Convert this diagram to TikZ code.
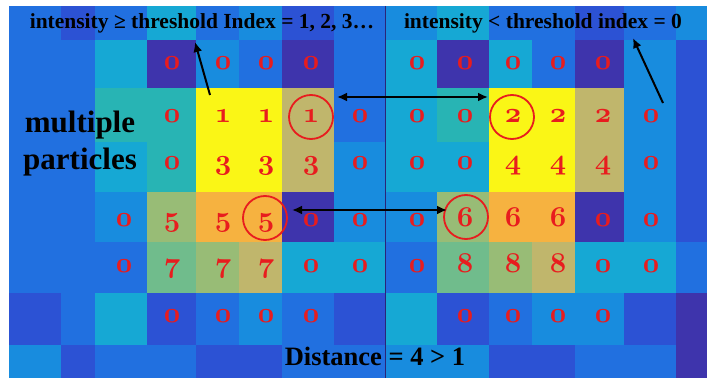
\documentclass[tikz,border=0pt]{standalone}
\usepackage{fontspec}
\setmainfont{Liberation Serif}
\usetikzlibrary{arrows.meta}
\definecolor{pIndigo}{RGB}{62,52,172}
\definecolor{pDeep}{RGB}{44,82,212}
\definecolor{pBlue}{RGB}{33,112,224}
\definecolor{pLight}{RGB}{24,140,222}
\definecolor{pCyan}{RGB}{22,168,212}
\definecolor{pTeal}{RGB}{40,180,180}
\definecolor{pGreen}{RGB}{112,188,140}
\definecolor{pOlive}{RGB}{152,188,118}
\definecolor{pKhaki}{RGB}{192,182,108}
\definecolor{pOrange}{RGB}{246,178,64}
\definecolor{pYellow}{RGB}{250,246,22}
\definecolor{numred}{RGB}{232,28,30}
\newcommand\oldnum{\fontencoding{OML}\fontfamily{cmm}\fontseries{b}\fontshape{it}\fontsize{24.88}{26}\selectfont}
\def\colx{{9,61,95,147,196,239,282,334,385,437,489,532,575,624,676,707}}
\def\rowy{{6,40,88,142,192,242,293,345,378}}
\tikzset{
  num/.style={text=numred, font=\oldnum, anchor=base, inner sep=0pt, scale=1.15, transform shape},
  ring/.style={circle, draw=numred, line width=1.8pt, minimum size=44pt, inner sep=0pt},
  pointer/.style={line width=2pt, -{Latex[length=10pt,width=9pt]}},
  link/.style={line width=2pt, {Latex[length=10pt,width=9pt]}-{Latex[length=10pt,width=9pt]}},
  headtext/.style={font=\bfseries\fontsize{21.5}{24}\selectfont, anchor=base, inner sep=0pt},
  bigtext/.style={font=\bfseries\fontsize{31}{34}\selectfont, anchor=base, inner sep=0pt}
}
\begin{document}
\begin{tikzpicture}[x=1pt,y=-1pt]
            \useasboundingbox (0,0) rectangle (707,379);
            \fill[white] (0,0) rectangle (707,379);

            % Intensity map, one list of colours per row
            \foreach \cols [count=\r from 0] in {
                {pBlue,pDeep,pBlue,pCyan,pBlue,pLight,pDeep,pBlue,pLight,pCyan,pBlue,pBlue,pDeep,pBlue,pLight},
                {pBlue,pBlue,pCyan,pIndigo,pLight,pBlue,pIndigo,pBlue,pCyan,pIndigo,pCyan,pBlue,pIndigo,pLight,pDeep},
                {pBlue,pBlue,pTeal,pTeal,pYellow,pYellow,pKhaki,pBlue,pCyan,pTeal,pYellow,pYellow,pKhaki,pLight,pDeep},
                {pBlue,pBlue,pCyan,pTeal,pYellow,pYellow,pKhaki,pLight,pCyan,pCyan,pYellow,pYellow,pKhaki,pLight,pDeep},
                {pBlue,pBlue,pLight,pOlive,pOrange,pOrange,pIndigo,pLight,pLight,pOlive,pOrange,pOrange,pIndigo,pLight,pDeep},
                {pBlue,pBlue,pBlue,pGreen,pOlive,pKhaki,pCyan,pCyan,pBlue,pGreen,pOlive,pKhaki,pCyan,pCyan,pBlue},
                {pDeep,pBlue,pCyan,pDeep,pBlue,pLight,pBlue,pDeep,pCyan,pDeep,pBlue,pLight,pLight,pDeep,pIndigo},
                {pLight,pDeep,pBlue,pBlue,pDeep,pDeep,pBlue,pBlue,pLight,pLight,pDeep,pDeep,pBlue,pBlue,pIndigo}} {
              \foreach \c [count=\k from 0] in \cols {
                \pgfmathsetmacro\xa{\colx[\k]}
                \pgfmathsetmacro\xb{\colx[\k+1]}
                \pgfmathsetmacro\ya{\rowy[\r]}
                \pgfmathsetmacro\yb{\rowy[\r+1]}
                \fill[\c] (\xa,\ya) rectangle (\xb+0.4,\yb+0.4);
              }
            }

            % Seam between the two maps
            \draw[pIndigo!70!black, line width=0.8pt] (385,6) -- (385,378);

            % Particle indices
            \foreach \x/\t [count=\k] in {172/0,223/0,266/0,311/0,417/0,465/0,513/0,558/0,603/0}
              \node[num] (a\k) at (\x,70) {\t};
            \foreach \x/\t [count=\k] in {172/0,223/1,266/1,311/1,360/0,417/0,465/0,513/2,558/2,603/2,651/0}
              \node[num] (b\k) at (\x,123) {\t};
            \foreach \x/\t [count=\k] in {172/0,223/3,266/3,311/3,360/0,417/0,465/0,513/4,558/4,603/4,651/0}
              \node[num] (c\k) at (\x,170) {\t};
            \foreach \x/\t [count=\k] in {124/0,172/5,223/5,266/5,311/0,360/0,417/0,465/6,513/6,558/6,603/0,651/0}
              \node[num] (d\k) at (\x,227) {\t};
            \foreach \x/\t [count=\k] in {124/0,172/7,223/7,266/7,311/0,360/0,417/0,465/8,513/8,558/8,603/0,651/0}
              \node[num] (e\k) at (\x,273) {\t};
            \foreach \x/\t [count=\k] in {172/0,223/0,266/0,311/0,465/0,513/0,558/0,603/0}
              \node[num] (f\k) at (\x,323) {\t};

            % Circled neighbours
            \node[ring] (ring1) at (311,117) {};
            \node[ring] (ring2) at (512,117) {};
            \node[ring] (ring5) at (265,218) {};
            \node[ring] (ring6) at (466,217) {};

            % Labels
            \node[headtext] (above) at (202,29) {intensity ≥ threshold Index = 1, 2, 3…};
            \node[headtext] (below) at (543,29) {intensity < threshold index = 0};
            \node[bigtext] (multi) at (80,133) {multiple};
            \node[bigtext] (parts) at (80,170) {particles};
            \node[font=\bfseries\fontsize{26.5}{28}\selectfont, anchor=base, inner sep=0pt] (dist) at (375,366) {Distance = 4 > 1};

            % Arrows
            \coordinate (tailL) at (210,95);
            \coordinate (tipL) at (195,42);
            \coordinate (tailR) at (663,103);
            \coordinate (tipR) at (633,38);
            \coordinate (pairAl) at (337,97);
            \coordinate (pairAr) at (488,97);
            \coordinate (pairBl) at (292,210);
            \coordinate (pairBr) at (447,210);
            \draw[pointer] (tailL) -- (tipL);
            \draw[pointer] (tailR) -- (tipR);
            \draw[link] (pairAl) -- (pairAr);
            \draw[link] (pairBl) -- (pairBr);
        \end{tikzpicture}
\end{document}
